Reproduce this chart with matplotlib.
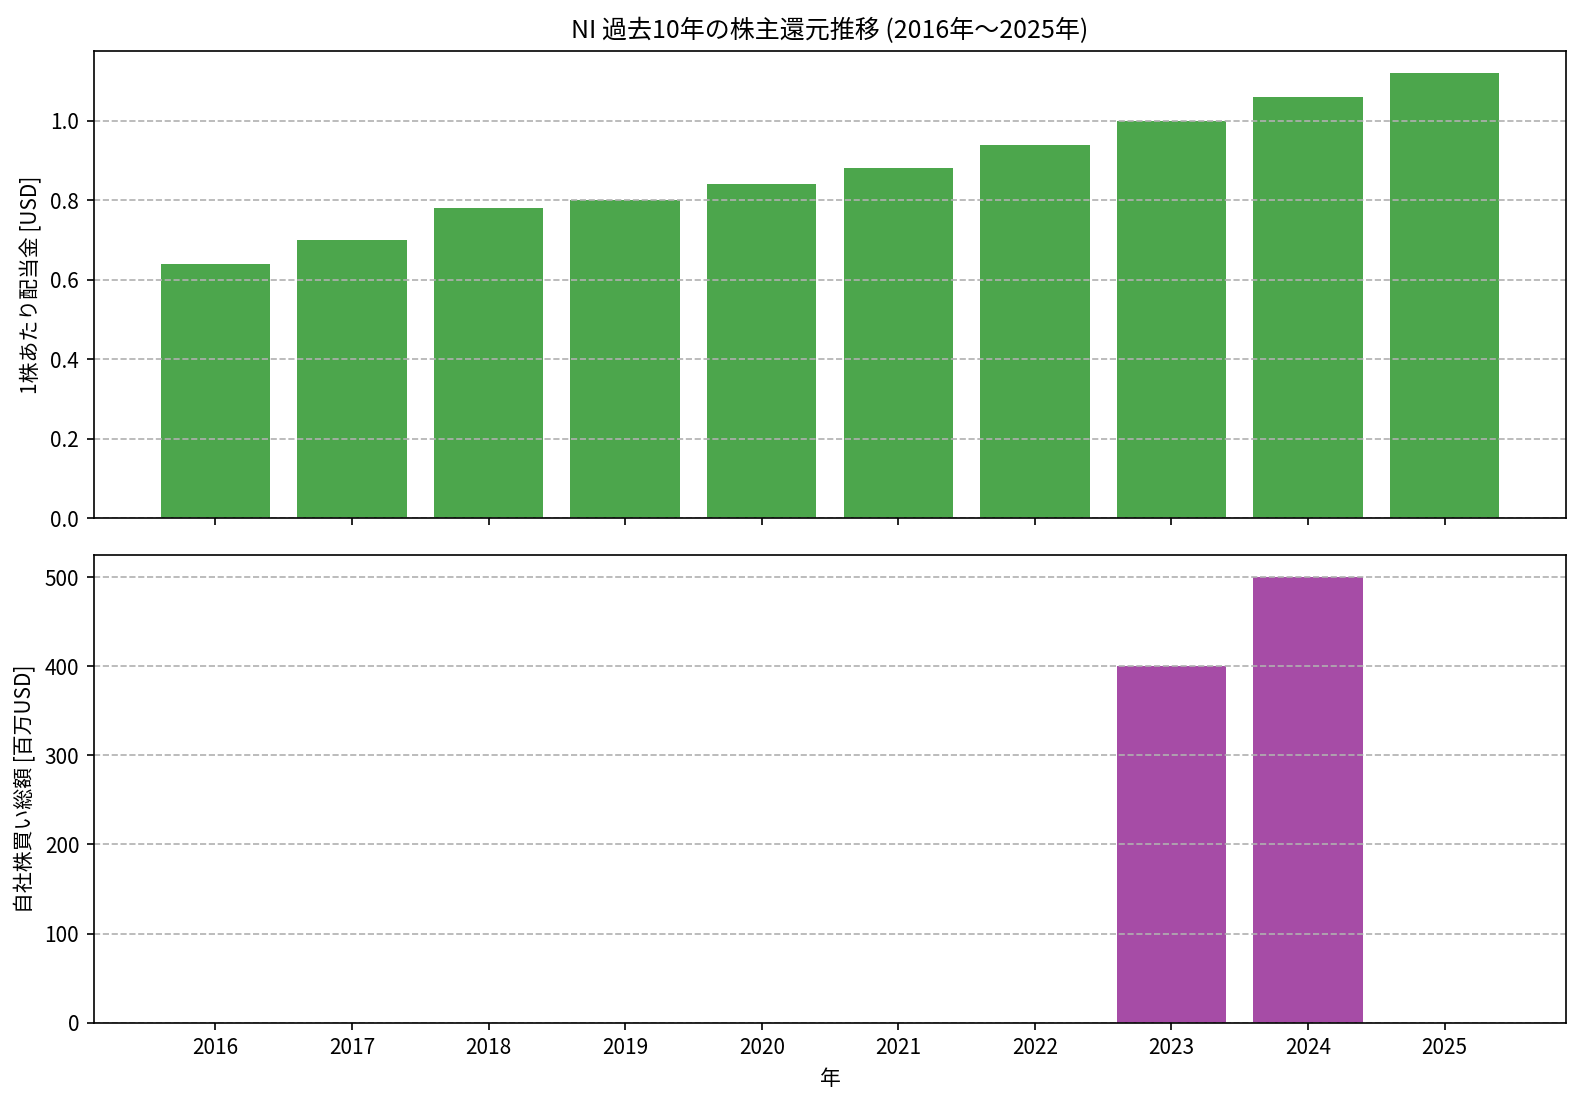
import matplotlib
matplotlib.use("Agg")
import matplotlib.pyplot as plt

plt.rcParams["font.family"] = ["Noto Sans CJK JP", "DejaVu Sans"]

years = [2016, 2017, 2018, 2019, 2020, 2021, 2022, 2023, 2024, 2025]
dividends = [0.64, 0.70, 0.78, 0.80, 0.84, 0.88, 0.94, 1.00, 1.06, 1.12]
buybacks = [0, 0, 0, 0, 0, 0, 0, 400, 500, 0]

fig, (ax1, ax2) = plt.subplots(2, 1, figsize=(1582 / 150, 1102 / 150), dpi=150, sharex=True)

ax1.bar(years, dividends, color="green", alpha=0.7)
ax1.set_ylabel("1株あたり配当金 [USD]")
ax1.set_title("NI 過去10年の株主還元推移 (2016年～2025年)", fontsize=12)
ax1.grid(axis="y", linestyle="--")

ax2.bar(years, buybacks, color="purple", alpha=0.7)
ax2.set_ylabel("自社株買い総額 [百万USD]")
ax2.set_xlabel("年")
ax2.grid(axis="y", linestyle="--")
ax2.set_xticks(years)
ax2.set_xticklabels([str(y) for y in years])

fig.subplots_adjust(left=0.0593, right=0.990, top=0.954, bottom=0.072, hspace=0.078)
fig.savefig("out.png")
